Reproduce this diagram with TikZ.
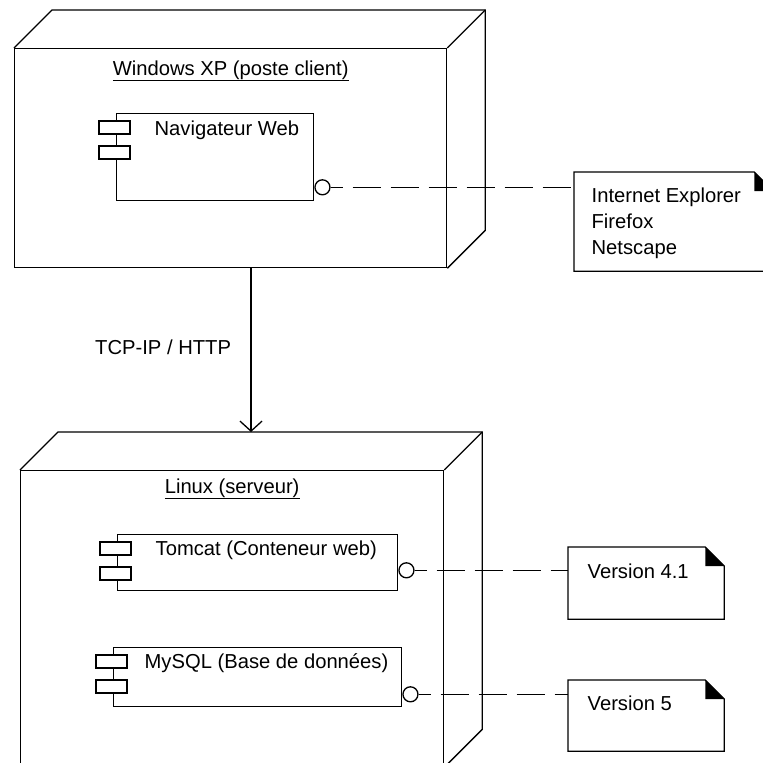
\documentclass[tikz,border=0pt]{standalone}
\usepackage{fontspec}
\setmainfont{Liberation Sans}
\usepackage{tikz}
\usetikzlibrary{arrows.meta, positioning}
\tikzset{
  nodebox/.style={rectangle, draw, anchor=north west, inner sep=0pt},
  compbox/.style={rectangle, draw, fill=white, anchor=north west, inner sep=0pt},
  tab/.style={draw, fill=white},
  port/.style={circle, draw, fill=white, minimum size=15pt, inner sep=0pt, anchor=west},
  notebox/.style={rectangle, anchor=north west, inner sep=0pt},
  notetext/.style={anchor=north west, align=left, inner sep=0pt},
  link/.style={dash pattern=on 28pt off 10pt, dash phase=16pt},
  umlarrow/.style={-{Straight Barb[length=10pt,width=22pt]}}
}

\begin{document}
\begin{tikzpicture}[x=1pt, y=-1pt, line width=1.3pt, font=\fontsize{20.2}{26}\selectfont]
  \fill[white] (0,0) rectangle (763,763);
  \useasboundingbox (0,0) rectangle (763,763);
  \clip (0,0) rectangle (763,763);

  % Client node (Windows XP)
  \node[nodebox, minimum width=432pt, minimum height=219pt] (client) at (14,48) {};
  \draw (client.north west) -- ++(38,-38) -- ([shift={(38,-38)}]client.north east)
    -- ([shift={(38,-38)}]client.south east) -- (client.south east);
  \draw (client.north east) -- ++(38,-38);
  \node[anchor=base] (clienttitle) at ([shift={(0,27)}]client.north) {\underline{Windows XP (poste client)}};

  % Server node (Linux)
  \node[nodebox, minimum width=423pt, minimum height=296pt] (server) at (20,470) {};
  \draw (server.north west) -- ++(38,-38) -- ([shift={(38,-38)}]server.north east)
    -- ([shift={(38,-38)}]server.south east) -- (server.south east);
  \draw (server.north east) -- ++(38,-38);
  \node[anchor=base] (servertitle) at ([shift={(0,23)}]server.north) {\underline{Linux (serveur)}};

  % Components
  \node[compbox, minimum width=197pt, minimum height=87pt] (nav) at (116,113) {};
  \node[notetext] (navtxt) at ([shift={(38,7)}]nav.north west) {Navigateur Web};

  \node[compbox, minimum width=280pt, minimum height=56pt] (tom) at (117,534) {};
  \node[notetext] (tomtxt) at ([shift={(38,6)}]tom.north west) {Tomcat (Conteneur web)};

  \node[compbox, minimum width=288pt, minimum height=59pt] (sql) at (113,647) {};
  \node[notetext] (sqltxt) at ([shift={(31,6)}]sql.north west) {MySQL (Base de données)};

  \foreach \c in {nav, tom, sql} {
    \draw[tab] ([shift={(-17,8)}]\c.north west) rectangle ++(31,13);
    \draw[tab] ([shift={(-17,33)}]\c.north west) rectangle ++(31,13);
  }

  % Interfaces
  \node[port] (navport) at ([shift={(0,-14)}]nav.south east) {};
  \node[port] (tomport) at ([shift={(0,-21)}]tom.south east) {};
  \node[port] (sqlport) at ([shift={(0,-13)}]sql.south east) {};

  % Notes
  \node[notebox, minimum width=198pt, minimum height=98pt] (notenav) at (574,172) {};
  \node[notetext] (notenavtxt) at ([shift={(17,15)}]notenav.north west) {Internet Explorer\\Firefox\\Netscape};

  \node[notebox, minimum width=155pt, minimum height=71pt] (notetom) at (568,547) {};
  \node[notetext] (notetomtxt) at ([shift={(19,16)}]notetom.north west) {Version 4.1};

  \node[notebox, minimum width=155pt, minimum height=70pt] (notesql) at (568,680) {};
  \node[notetext] (notesqltxt) at ([shift={(19,15)}]notesql.north west) {Version 5};

  \foreach \n in {notenav, notetom, notesql} {
    \draw (\n.north west) -- ([shift={(-19,0)}]\n.north east) -- ([shift={(0,19)}]\n.north east)
      -- (\n.south east) -- (\n.south west) -- cycle;
    \fill ([shift={(-19,0)}]\n.north east) -- ([shift={(-19,19)}]\n.north east)
      -- ([shift={(0,19)}]\n.north east) -- cycle;
  }

  % Dependencies to notes
  \draw[link] (navport.east) -- (navport.east -| notenav.west);
  \draw[link] (tomport.east) -- (tomport.east -| notetom.west);
  \draw[link] (sqlport.east) -- (sqlport.east -| notesql.west);

  % Communication path
  \coordinate (tcp) at (251,0);
  \coordinate (srvback) at ([shift={(38,-38)}]server.north west);
  \draw[umlarrow] (client.south -| tcp) -- (srvback -| tcp)
    node[midway, left=16pt, yshift=3pt] (tcplbl) {TCP-IP / HTTP};
\end{tikzpicture}
\end{document}
